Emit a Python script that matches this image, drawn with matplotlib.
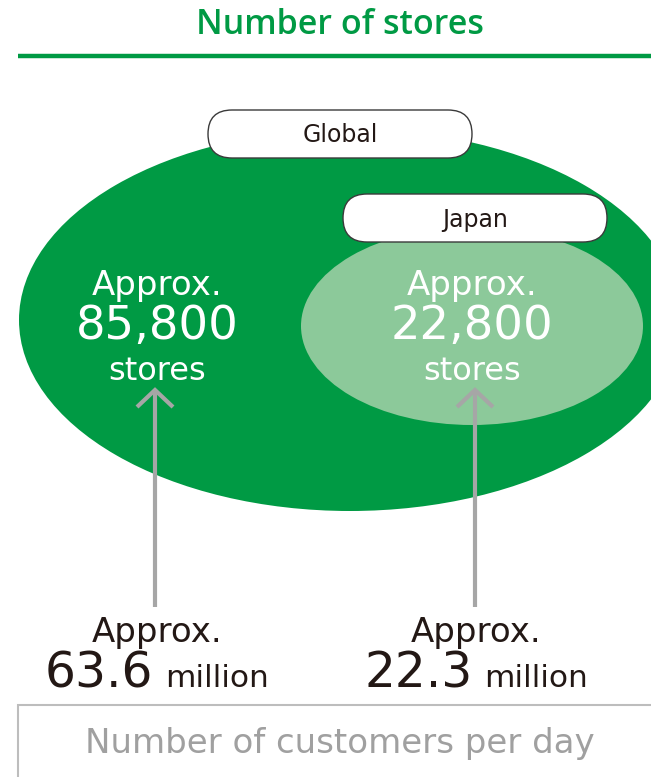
import matplotlib
matplotlib.use('Agg')
import matplotlib.pyplot as plt
from matplotlib.patches import Ellipse, FancyBboxPatch, Rectangle

# data
regions = ['Global', 'Japan']
stores = [85800, 22800]
customers_mn = [63.6, 22.3]

GREEN = '#009a44'
LIGHT = '#8cc99a'
GRAY = '#a6a6a6'
INK = '#231815'
FONT = ['DejaVu Sans']
TFONT = ['Open Sans', 'DejaVu Sans']

fig = plt.figure(figsize=(6.51, 7.77), dpi=100)
ax = fig.add_axes([0, 0, 1, 1])
ax.set_xlim(0, 651)
ax.set_ylim(777, 0)
ax.axis('off')

# header
ax.text(340, 34, 'Number of stores', color=GREEN, fontsize=24.5, ha='center', va='baseline',
        family=TFONT, fontweight='semibold')
ax.plot([18, 651], [56, 56], color=GREEN, lw=3.2, solid_capstyle='butt')

# circles (ellipses)
ax.add_patch(Ellipse((350, 320), 662, 382, color=GREEN, lw=0))
ax.add_patch(Ellipse((472, 326), 342, 198, color=LIGHT, lw=0))

# region labels
for name, (x0, y0), base in zip(regions, [(208, 110), (343, 194)], [142, 227]):
    ax.add_patch(FancyBboxPatch((x0, y0), 264, 48, boxstyle='round,pad=0,rounding_size=24',
                                fc='white', ec='#3a3a3a', lw=1.0))
    ax.text(x0 + 132, base, name, color=INK, fontsize=17, ha='center', va='baseline', family=FONT)

centers = [157, 472]
for cx, s in zip(centers, stores):
    ax.text(cx, 295, 'Approx.', color='white', fontsize=24.5, ha='center', va='baseline', family=FONT)
    ax.text(cx, 339, f'{s:,}', color='white', fontsize=33.5, ha='center', va='baseline', family=FONT)
    ax.text(cx, 380, 'stores', color='white', fontsize=23, ha='center', va='baseline', family=FONT)

# arrows
for ax_x in [155, 475]:
    ax.plot([ax_x, ax_x], [390, 607], color=GRAY, lw=3, solid_capstyle='butt')
    ax.plot([ax_x - 18, ax_x, ax_x + 18], [407, 390, 407], color=GRAY, lw=3,
            solid_joinstyle='miter', solid_capstyle='butt')

# customers per day
fig.canvas.draw()
r = fig.canvas.get_renderer()
for cx, c in zip([157, 476], customers_mn):
    ax.text(cx, 642, 'Approx.', color=INK, fontsize=24.5, ha='center', va='baseline', family=FONT)
    t1 = ax.text(0, 687, f'{c}', color=INK, fontsize=35, ha='left', va='baseline', family=FONT)
    t2 = ax.text(0, 687, 'million', color=INK, fontsize=22.5, ha='left', va='baseline', family=FONT)
    w1 = t1.get_window_extent(r).width
    w2 = t2.get_window_extent(r).width
    gap = 12
    total = w1 + gap + w2
    x0 = cx - total / 2
    t1.set_x(x0)
    t2.set_x(x0 + w1 + gap)

ax.add_patch(Rectangle((18, 705), 700, 100, fc='white', ec='#bdbdbd', lw=1.5))
ax.text(340, 753, 'Number of customers per day', color='#a0a0a0', fontsize=24.5,
        ha='center', va='baseline', family=FONT)

fig.savefig('out.png', dpi=100)
